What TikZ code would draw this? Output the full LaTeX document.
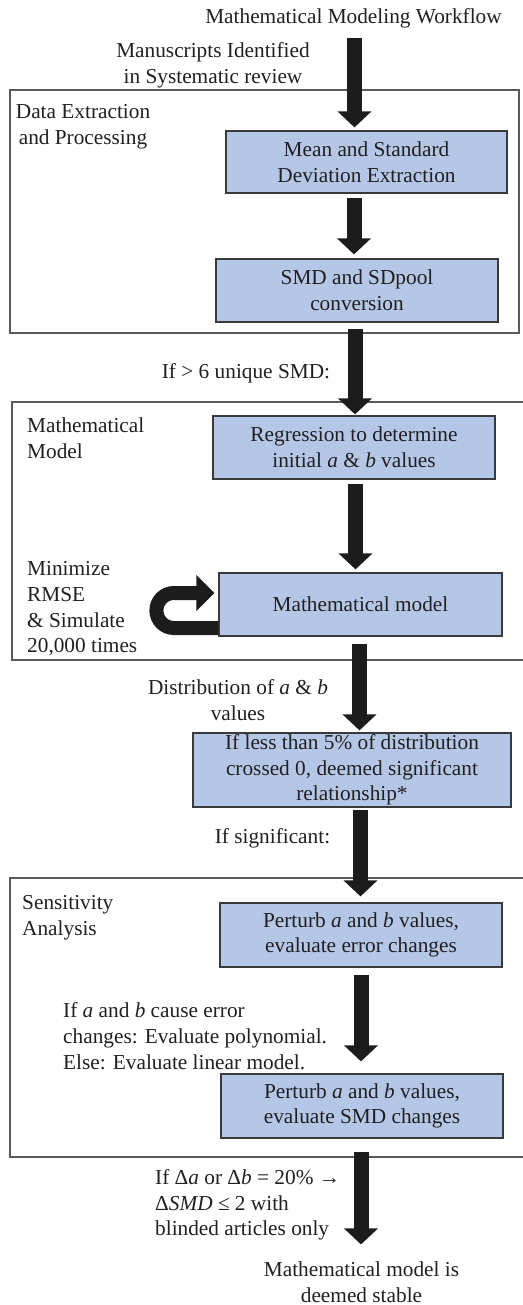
\documentclass[tikz,border=0pt]{standalone}
\usepackage{fontspec}
\setmainfont{Liberation Serif}
\usetikzlibrary{arrows.meta,calc}
\definecolor{boxblue}{HTML}{B4C7E7}
\definecolor{boxline}{HTML}{3A3A3A}
\definecolor{frameline}{HTML}{5A5A5A}
\definecolor{arrowc}{HTML}{1C1C1C}
\definecolor{textc}{HTML}{231F20}
\begin{document}
\begin{tikzpicture}[x=1pt,y=-1pt,
  txt/.style={font=\fontsize{21.3}{25.7}\selectfont, inner sep=0pt, text=textc},
  stepbox/.style={txt, draw=boxline, line width=1.2pt, fill=boxblue, align=center, minimum height=63pt},
  lbl/.style={txt, align=center},
  lbll/.style={txt, align=left, anchor=west},
  frame/.style={draw=frameline, line width=1.2pt},
  bigarrow/.style={draw=arrowc, line width=15pt, -{Triangle[width=33pt,length=16pt]}},
]
\useasboundingbox (0,0) rectangle (522,1305);
\fill[white] (0,0) rectangle (522,1305);

% frames
\draw[frame] (10,90) rectangle (519,333);
\draw[frame] (524,402) -- (12,402) -- (12,660) -- (524,660);
\draw[frame] (524,878) -- (10,878) -- (10,1157) -- (524,1157);

% arrow x positions
\coordinate (ax1) at (354.5,0);
\coordinate (ax2) at (354,0);
\coordinate (ax3) at (355,0);
\coordinate (ax4) at (355.5,0);
\coordinate (ax5) at (359.5,0);
\coordinate (ax6) at (360.5,0);
\coordinate (ax7) at (361,0);
\coordinate (ax8) at (361,0);

% boxes
\node[stepbox, minimum width=281pt, minimum height=62pt] (b1) at (366.5,162) {Mean and Standard\\Deviation Extraction};
\node[stepbox, minimum width=282pt] (b2) at (357,290.5) {SMD and SDpool\\conversion};
\node[stepbox, minimum width=282pt] (b3) at (354,447.5) {Regression to determine\\initial \textit{a} \& \textit{b} values};
\node[stepbox, minimum width=283pt] (b4) at (360.5,604.5) {Mathematical model};
\node[stepbox, minimum width=318pt, minimum height=74pt] (b5) at (352,770) {If less than 5\% of distribution\\crossed 0, deemed significant\\relationship*};
\node[stepbox, minimum width=282pt, minimum height=64pt] (b6) at (361,935) {Perturb \textit{a} and \textit{b} values,\\evaluate error changes};
\node[stepbox, minimum width=282pt, minimum height=64pt] (b7) at (362,1106) {Perturb \textit{a} and \textit{b} values,\\evaluate SMD changes};

% labels
\node[lbl] (t0) at (353.5,18.5) {Mathematical Modeling Workflow};
\node[lbl] (t1) at (213,65) {Manuscripts Identified\\in Systematic review};
\node[lbl] (t2) at (83,127) {Data Extraction\\and Processing};
\node[lbl] (t3) at (246,373) {If > 6 unique SMD:};
\node[lbll] (t4) at (27,438.5) {Mathematical\\Model};
\node[lbll] (t5) at (27,609) {Minimize\\RMSE\\\& Simulate\\20,000 times};
\node[lbl] (t6) at (238,700) {Distribution of \textit{a} \& \textit{b}\\values};
\node[lbl] (t7) at (272.5,838) {If significant:};
\node[lbll] (t8) at (22,918) {Sensitivity\\Analysis};
\node[lbll] (t9) at (63,1036) {If \textit{a} and \textit{b} cause error\\changes: Evaluate polynomial.\\Else: Evaluate linear model.};
\node[lbll] (t10) at (155,1205) {If Δ\textit{a} or Δ\textit{b} = 20\% →\\Δ\textit{SMD} ≤ 2 with\\blinded articles only};
\node[lbl] (t11) at (361.5,1282) {Mathematical model is\\deemed stable};

% connectors
\draw[bigarrow] (t0.south -| ax1) ++(0,10) -- ($(b1.north -| ax1)+(0,-3)$);
\draw[bigarrow] ($(b1.south -| ax2)+(0,4)$) -- ($(b2.north -| ax2)+(0,-4)$);
\draw[bigarrow] ($(b2.south -| ax3)+(0,6)$) -- ($(b3.north -| ax3)+(0,-1)$);
\draw[bigarrow] ($(b3.south -| ax4)+(0,4)$) -- ($(b4.north -| ax4)+(0,-3)$);
\draw[bigarrow] ($(b4.south -| ax5)+(0,7)$) -- ($(b5.north -| ax5)+(0,-2)$);
\draw[bigarrow] ($(b5.south -| ax6)+(0,2)$) -- ($(b6.north -| ax6)+(0,-6)$);
\draw[bigarrow] ($(b6.south -| ax7)+(0,7)$) -- ($(b7.north -| ax7)+(0,-12)$);
\draw[bigarrow] ($(b7.south -| ax8)+(0,13)$) -- ($(t11.north -| ax8)+(0,-17)$);

% loop arrow
\draw[draw=arrowc, line width=14pt, rounded corners=17.5pt, -{Triangle[width=35pt,length=18pt]}]
  ($(b4.west)+(0,23.5)$) -- ++(-62,0) -- ++(0,-35) -- ($(b4.west)+(-4,-11.5)$);
\end{tikzpicture}
\end{document}
